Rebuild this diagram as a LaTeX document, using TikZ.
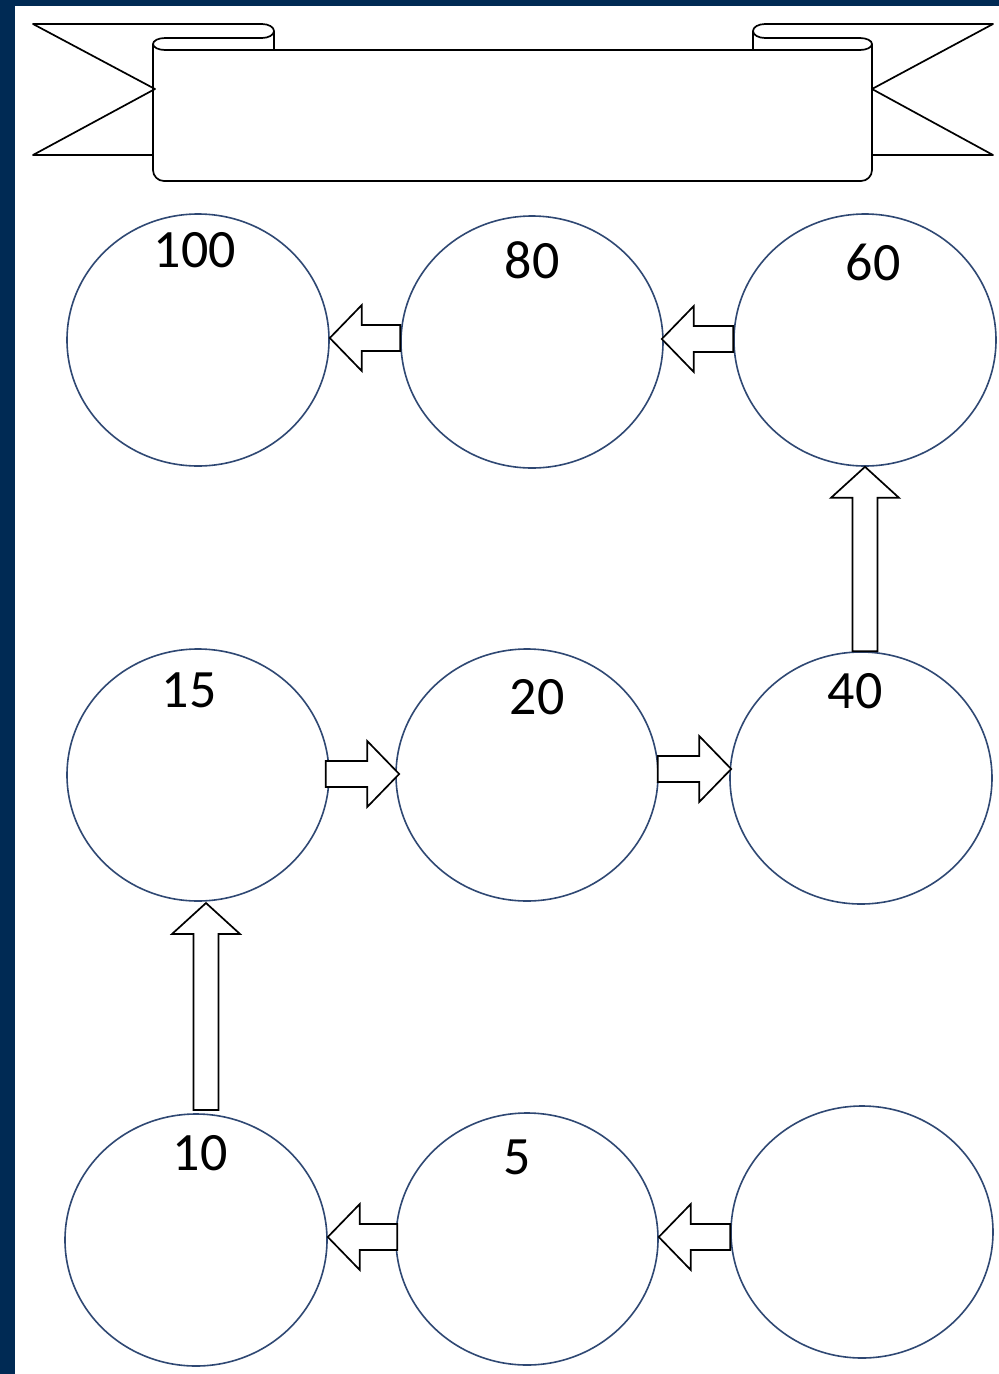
\documentclass[tikz,border=0pt]{standalone}
\usepackage{fontspec}
\setmainfont{Carlito}
\usetikzlibrary{shapes.geometric,calc}
\definecolor{navy}{RGB}{0,42,84}
\definecolor{ring}{RGB}{47,72,115}
\tikzset{
  circ/.style={ellipse, draw=ring, line width=1.6pt, minimum width=262pt, minimum height=252pt, inner sep=0pt},
  num/.style={font=\fontsize{54}{60}\selectfont, text=black, inner sep=0pt},
  blk/.style={draw=black, line width=1.7pt, fill=white, line join=miter},
  ban/.style={draw=black, line width=1.7pt, line join=round},
}
\newcommand\harr[2]{\draw[blk] let \p1=#1, \p2=#2, \n1={ifthenelse(\x2>\x1,1,-1)} in
  (\x1,\y2+13pt) -- ({\x2-\n1*32pt},\y2+13pt) -- ({\x2-\n1*32pt},\y2+33pt) -- (\x2,\y2)
  -- ({\x2-\n1*32pt},\y2-33pt) -- ({\x2-\n1*32pt},\y2-13pt) -- (\x1,\y2-13pt) -- cycle;}
\newcommand\varr[2]{\draw[blk] let \p1=#1, \p2=#2, \n1={ifthenelse(\y2>\y1,1,-1)} in
  (\x2+12.5pt,\y1) -- (\x2+12.5pt,{\y2-\n1*31pt}) -- (\x2+34pt,{\y2-\n1*31pt}) -- (\x2,\y2)
  -- (\x2-34pt,{\y2-\n1*31pt}) -- (\x2-12.5pt,{\y2-\n1*31pt}) -- (\x2-12.5pt,\y1) -- cycle;}
\begin{document}
\begin{tikzpicture}[x=1pt,y=-1pt]
\useasboundingbox (0,0) rectangle (999,1374);
\fill[white] (0,0) rectangle (999,1374);
\fill[navy] (0,0) rectangle (999,6);
\fill[navy] (0,0) rectangle (15,1374);

% banner
\draw[ban] (153,155) -- (33,155) -- (155,89) -- (33,24) -- (262,24)
  arc[start angle=-90, end angle=90, x radius=12, y radius=7] -- (165,38)
  arc[start angle=-90, end angle=-270, x radius=12, y radius=6] -- (860,50)
  arc[start angle=90, end angle=-90, x radius=12, y radius=6] -- (765,38)
  arc[start angle=90, end angle=270, x radius=12, y radius=7] -- (993,24)
  -- (872,89) -- (993,155) -- (872,155);
\draw[ban] (153,44) -- (153,170) arc[start angle=180, end angle=90, radius=11]
  -- (861,181) arc[start angle=90, end angle=0, radius=11] -- (872,44);
\draw[ban] (274,31) -- (274,50);
\draw[ban] (753,31) -- (753,50);

% circles
\node[circ] (c100) at (198,340) {};
\node[circ] (c80)  at (532,342) {};
\node[circ] (c60)  at (865,340) {};
\node[circ] (c15)  at (198,775) {};
\node[circ] (c20)  at (527,775) {};
\node[circ] (c40)  at (861,778) {};
\node[circ] (c10)  at (196,1240) {};
\node[circ] (c5)   at (527,1239) {};
\node[circ] (cx)   at (862,1232) {};

% labels
\node[num] (t100) at (195,250) {100};
\node[num] (t80)  at (532,260) {80};
\node[num] (t60)  at (873,262) {60};
\node[num] (t15)  at (189,690) {15};
\node[num] (t20)  at (537,697) {20};
\node[num] (t40)  at (855,691) {40};
\node[num] (t10)  at (200,1153) {10};
\node[num] (t5)   at (517,1157) {5};

% arrows
\harr{(c80.west |- 0,338)}{(c100.east |- 0,338)}
\harr{(c60.west |- 0,339)}{([xshift=-2pt]c80.east |- 0,339)}
\harr{([xshift=-4pt]c15.east |- 0,774)}{([xshift=4pt]c20.west |- 0,774)}
\harr{([xshift=-1pt]c20.east |- 0,769)}{([xshift=2pt]c40.west |- 0,769)}
\harr{([xshift=2pt]c5.west |- 0,1237)}{(c10.east |- 0,1237)}
\harr{(cx.west |- 0,1237)}{(c5.east |- 0,1237)}
\varr{(c60.south |- c40.north)}{(c60.south)}
\varr{([xshift=8pt]c15.south |- 0,1110)}{([xshift=8pt]c15.south |- 0,903)}
\end{tikzpicture}
\end{document}
